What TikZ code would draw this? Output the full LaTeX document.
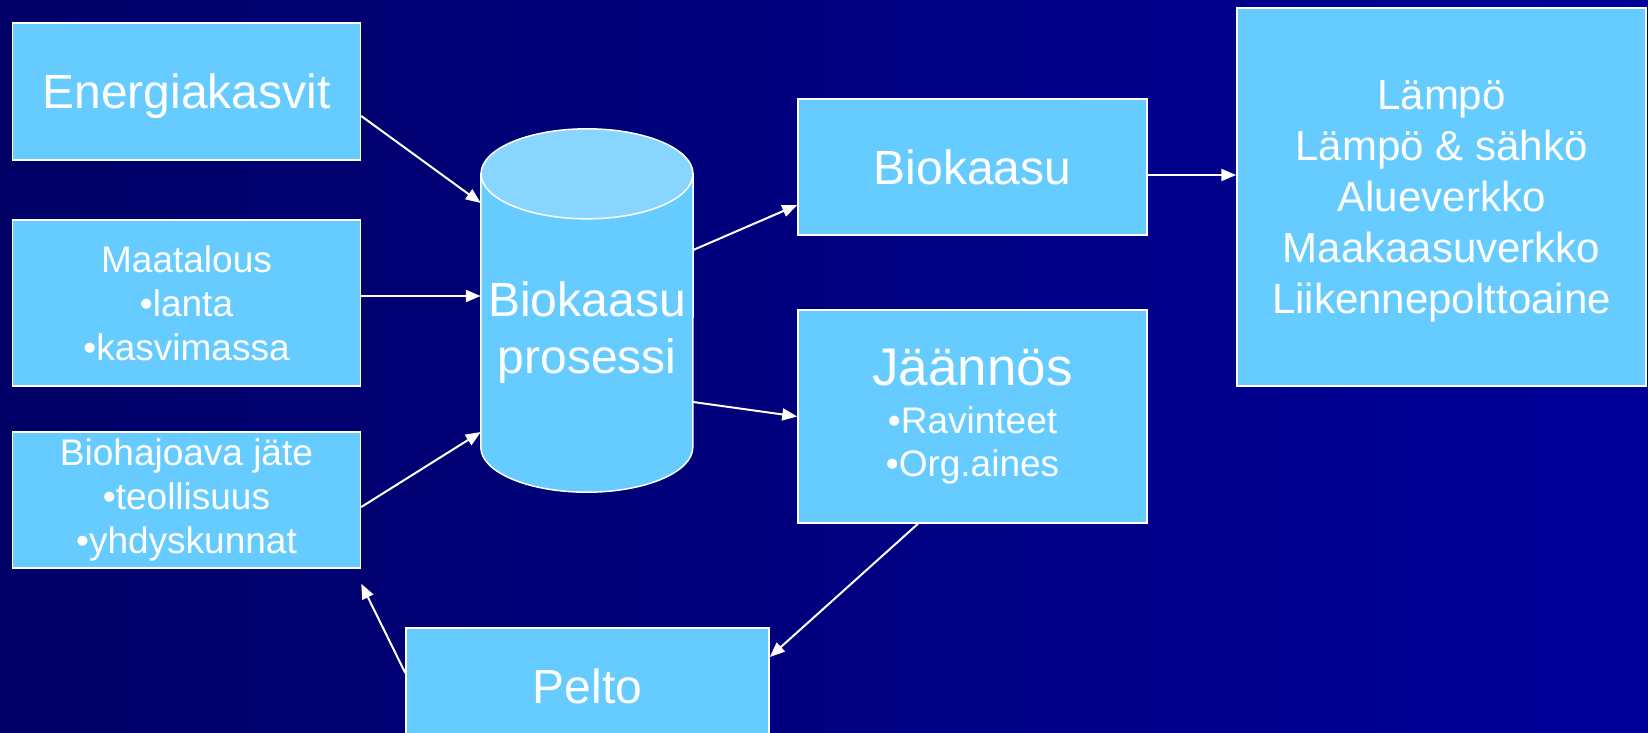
\documentclass[tikz,border=0pt]{standalone}
\usepackage{fontspec}
\setmainfont{Liberation Sans}
\usetikzlibrary{arrows.meta, calc}
\definecolor{boxblue}{HTML}{66CCFF}
\definecolor{topblue}{HTML}{88D5FF}
\definecolor{bgleft}{HTML}{000066}
\definecolor{bgright}{HTML}{000099}

\begin{document}
\begin{tikzpicture}[
  x=1pt, y=1pt, >={Triangle[length=15pt,width=12pt]},
  box/.style={draw=white, line width=1.5pt, fill=boxblue, text=white,
              align=center, inner sep=0pt},
  big/.style={font=\fontsize{48}{57}\selectfont},
  small/.style={font=\fontsize{37}{44}\selectfont},
  flow/.style={->, white, line width=2pt},
]
% --- background ---
\shade[left color=bgleft, right color=bgright] (0,0) rectangle (1648,-732);
\useasboundingbox (0,0) rectangle (1648,-732);

% --- inputs ---
\node[box, big, text depth=0pt, minimum width=348pt, minimum height=137pt] (energ) at (186.5,-91.5) {Energiakasvit};
\node[box, small, minimum width=348pt, minimum height=166pt] (maat) at (186.5,-303)
  {Maatalous\\•lanta\\•kasvimassa};
\node[box, small, minimum width=348pt, minimum height=136pt] (bioj) at (186.5,-500)
  {Biohajoava jäte\\•teollisuus\\•yhdyskunnat};

% --- process (cylinder) ---
\node[minimum width=212pt, minimum height=273pt, inner sep=0pt] (proc) at (587,-310.5) {};
\draw[white, line width=1.5pt, fill=boxblue] (proc.north west) -- (proc.south west)
  arc[start angle=180, end angle=360, x radius=106pt, y radius=45pt] -- (proc.north east) -- cycle;
\draw[white, line width=1.5pt, fill=topblue] (proc.north) ellipse[x radius=106pt, y radius=45pt];
\node[big, text=white, align=center] (proctxt) at ([yshift=-22pt]proc.center) {Biokaasu\\prosessi};

% --- outputs ---
\node[box, big, minimum width=349pt, minimum height=136pt] (bkaasu) at (972.5,-167) {Biokaasu};
\node[box, font=\fontsize{37}{43}\selectfont, minimum width=349pt, minimum height=213pt] (jaan) at (972.5,-416.5)
  {{\fontsize{53}{60}\selectfont Jäännös}\\[5pt]•Ravinteet\\•Org.aines};
\node[box, font=\fontsize{42}{51}\selectfont, text depth=0pt, minimum width=409pt, minimum height=378pt] (out) at (1441.5,-197)
  {Lämpö\\Lämpö \& sähkö\\Alueverkko\\Maakaasuverkko\\Liikennepolttoaine};
\node[box, big, minimum width=363pt, minimum height=117pt] (pelto) at (587.5,-686.5) {Pelto};

% --- flows ---
\draw[flow] ([yshift=-24.5pt]energ.east) -- ([yshift=107.5pt]proc.west);
\draw[flow] ([yshift=7pt]maat.east) -- ([yshift=7pt]maat.east -| proc.west);
\draw[flow] ([yshift=-7pt]bioj.east) -- ([yshift=-121.5pt]proc.west);
\draw[flow] ([yshift=60.5pt]proc.east) -- ([yshift=-38pt]bkaasu.west);
\draw[flow] ([yshift=-91.5pt]proc.east) -- (jaan.west);
\draw[flow] ([yshift=-8pt]bkaasu.east) -- ([yshift=-8pt]bkaasu.east -| out.west);
\draw[flow] ([xshift=-54.5pt]jaan.south) -- ([yshift=29.5pt]pelto.east);
\draw[flow] ([yshift=13.5pt]pelto.west) -- ([yshift=-15pt]bioj.south east);
\end{tikzpicture}
\end{document}
